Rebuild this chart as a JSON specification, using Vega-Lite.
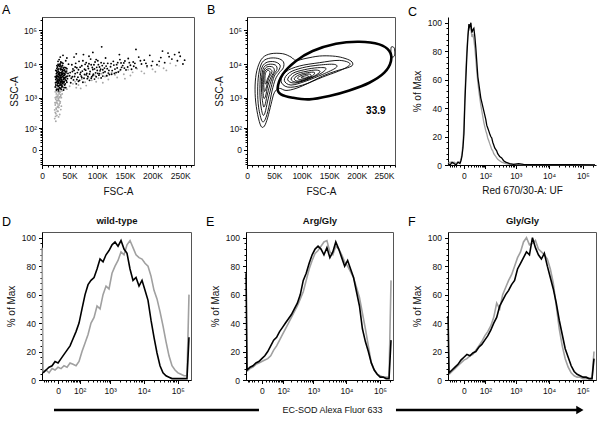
{
"$schema":"https://vega.github.io/schema/vega-lite/v6.json",
"background":"white",
"padding":{"left":1,"top":3,"right":2,"bottom":2},
"config":{
 "font":"Liberation Sans",
 "view":{"stroke":"#555","strokeWidth":1},
 "axis":{"labelFont":"Liberation Sans","titleFont":"Liberation Sans","labelFontSize":8.5,"titleFontSize":10,"titleFontWeight":"normal","labelColor":"#111","titleColor":"#111","domainColor":"#000","tickColor":"#000","grid":false,"labelFlush":false,"labelOverlap":false,"labelBound":false},
 "title":{"font":"Liberation Sans","fontSize":12.5,"fontWeight":"normal","anchor":"start","frame":"group","dx":-40,"offset":0,"color":"#000"}
},
"datasets":{
 "scatK":[{"x":24000,"y":2100},{"x":25000,"y":3500},{"x":26000,"y":5200},{"x":27000,"y":1800},{"x":27000,"y":7400},{"x":28000,"y":2600},{"x":28000,"y":4300},{"x":29000,"y":9800},{"x":29000,"y":3100},{"x":30000,"y":1600},{"x":30000,"y":6100},{"x":31000,"y":2300},{"x":31000,"y":4800},{"x":32000,"y":8600},{"x":32000,"y":3600},{"x":33000,"y":1900},{"x":33000,"y":5600},{"x":34000,"y":2800},{"x":34000,"y":11500},{"x":35000,"y":4100},{"x":35000,"y":7000},{"x":36000,"y":2100},{"x":36000,"y":3300},{"x":37000,"y":5100},{"x":37000,"y":9100},{"x":38000,"y":2600},{"x":38000,"y":6400},{"x":39000,"y":3900},{"x":39000,"y":1700},{"x":40000,"y":4600},{"x":40000,"y":8000},{"x":41000,"y":2400},{"x":42000,"y":5900},{"x":42000,"y":3400},{"x":43000,"y":12500},{"x":43000,"y":2000},{"x":44000,"y":4300},{"x":45000,"y":7300},{"x":45000,"y":2900},{"x":46000,"y":3700},{"x":47000,"y":5300},{"x":48000,"y":9900},{"x":26000,"y":2900},{"x":29000,"y":6800},{"x":31000,"y":13500},{"x":33000,"y":3900},{"x":35000,"y":2400},{"x":37000,"y":3000},{"x":30000,"y":4200},{"x":28000,"y":8200},{"x":32000,"y":2000},{"x":34000,"y":6800},{"x":36000,"y":4900},{"x":38000,"y":10500},{"x":40000,"y":3000},{"x":27000,"y":4600},{"x":41000,"y":6700},{"x":44000,"y":3200},{"x":25000,"y":2400},{"x":39000,"y":5400},{"x":26500,"y":3800},{"x":28500,"y":5600},{"x":30500,"y":2800},{"x":33500,"y":7600},{"x":35500,"y":5400},{"x":37500,"y":4200},{"x":29500,"y":2200},{"x":31500,"y":3200},{"x":34500,"y":3500},{"x":36500,"y":6100},{"x":27500,"y":3200},{"x":32500,"y":4500},{"x":38500,"y":3500},{"x":40500,"y":5200},{"x":42500,"y":4000},{"x":30000,"y":9000},{"x":33000,"y":10000},{"x":36000,"y":8200},{"x":24500,"y":2800},{"x":26000,"y":1700},{"x":33000,"y":16000},{"x":38000,"y":18000},{"x":45000,"y":15000},
 {"x":25500,"y":4300},{"x":26500,"y":6300},{"x":27500,"y":2300},{"x":28500,"y":3600},{"x":29500,"y":4900},{"x":30500,"y":7200},{"x":31500,"y":5600},{"x":32500,"y":2600},{"x":33500,"y":3100},{"x":34500,"y":4700},{"x":35500,"y":3000},{"x":36500,"y":2700},{"x":37500,"y":6800},{"x":38500,"y":4600},{"x":39500,"y":2900},{"x":40500,"y":3700},{"x":41500,"y":4900},{"x":43500,"y":5500},{"x":44500,"y":6200},{"x":46500,"y":4400},{"x":27000,"y":5800},{"x":29000,"y":2700},{"x":31000,"y":3900},{"x":33000,"y":4500},{"x":35000,"y":3600},{"x":37000,"y":2200},{"x":39000,"y":7600},{"x":41000,"y":3900},{"x":28000,"y":3000},{"x":30000,"y":3400},{"x":32000,"y":5100},{"x":34000,"y":4000},{"x":36000,"y":5600},{"x":38000,"y":3000},{"x":40000,"y":6400},{"x":42000,"y":2600},{"x":26000,"y":4000},{"x":30000,"y":5200},{"x":34000,"y":8800},{"x":29000,"y":12000},{"x":36000,"y":11000},{"x":31000,"y":9800},{"x":27000,"y":9000},{"x":25000,"y":6500},{"x":24000,"y":4200},{"x":33000,"y":2400},{"x":35000,"y":1800},{"x":29500,"y":1800},{"x":40000,"y":2000},{"x":43000,"y":7800},
 {"x":50000,"y":4500},{"x":52000,"y":2800},{"x":54000,"y":9500},{"x":55000,"y":6000},{"x":57000,"y":3400},{"x":58000,"y":16000},{"x":60000,"y":5200},{"x":62000,"y":2600},{"x":63000,"y":7800},{"x":65000,"y":4100},{"x":67000,"y":12000},{"x":68000,"y":3300},{"x":70000,"y":5700},{"x":72000,"y":8900},{"x":74000,"y":2900},{"x":75000,"y":19000},{"x":77000,"y":4900},{"x":79000,"y":6600},{"x":80000,"y":11000},{"x":82000,"y":3700},{"x":84000,"y":7400},{"x":86000,"y":5100},{"x":88000,"y":14000},{"x":90000,"y":4200},{"x":92000,"y":6900},{"x":94000,"y":9500},{"x":95000,"y":3600},{"x":97000,"y":5500},{"x":99000,"y":8000},{"x":101000,"y":12500},{"x":103000,"y":4700},{"x":105000,"y":6300},{"x":107000,"y":3900},{"x":109000,"y":9000},{"x":111000,"y":5600},{"x":113000,"y":7600},{"x":115000,"y":15000},{"x":117000,"y":4500},{"x":119000,"y":10500},{"x":121000,"y":6500},{"x":124000,"y":8300},{"x":126000,"y":5000},{"x":129000,"y":12000},{"x":132000,"y":7100},{"x":135000,"y":9600},{"x":138000,"y":5800},{"x":141000,"y":13500},{"x":144000,"y":8000},{"x":148000,"y":10800},{"x":152000,"y":6700},{"x":156000,"y":14500},{"x":160000,"y":9200},{"x":165000,"y":11500},{"x":170000,"y":7800},{"x":175000,"y":16000},{"x":180000,"y":10000},{"x":185000,"y":13000},{"x":190000,"y":8800},{"x":195000,"y":18000},{"x":200000,"y":12000},{"x":208000,"y":9500},{"x":215000,"y":15500},{"x":222000,"y":11000},{"x":228000,"y":21000},{"x":235000,"y":14000},{"x":240000,"y":19000},{"x":245000,"y":12500},{"x":250000,"y":17000},{"x":258000,"y":13000},{"x":108000,"y":32000},{"x":170000,"y":27000},{"x":62000,"y":20000},{"x":92000,"y":22000},
 {"x":53000,"y":3800},{"x":56000,"y":7200},{"x":59000,"y":4300},{"x":61000,"y":10500},{"x":64000,"y":5600},{"x":66000,"y":3100},{"x":69000,"y":8100},{"x":71000,"y":4400},{"x":73000,"y":6200},{"x":76000,"y":3800},{"x":78000,"y":9800},{"x":81000,"y":5300},{"x":83000,"y":4300},{"x":85000,"y":10200},{"x":87000,"y":6000},{"x":89000,"y":3800},{"x":91000,"y":7900},{"x":93000,"y":5000},{"x":96000,"y":11500},{"x":98000,"y":4200},{"x":100000,"y":6500},{"x":102000,"y":9600},{"x":104000,"y":5200},{"x":106000,"y":7000},{"x":110000,"y":4400},{"x":112000,"y":10500},{"x":114000,"y":5900},{"x":118000,"y":7300},{"x":122000,"y":4900},{"x":127000,"y":6400},{"x":130000,"y":9300},{"x":134000,"y":5600},{"x":137000,"y":11000},{"x":142000,"y":6800},{"x":146000,"y":9000},{"x":150000,"y":12300},{"x":155000,"y":8200},{"x":162000,"y":7000},{"x":168000,"y":10500},
 {"x":51000,"y":5600},{"x":55000,"y":4200},{"x":58000,"y":6500},{"x":60000,"y":8200},{"x":63000,"y":3500},{"x":66000,"y":6800},{"x":69000,"y":5000},{"x":72000,"y":4000},{"x":74000,"y":12500},{"x":77000,"y":7000},{"x":80000,"y":4800},{"x":83000,"y":8600},{"x":86000,"y":3300},{"x":89000,"y":9500},{"x":92000,"y":4600},{"x":95000,"y":7200},{"x":98000,"y":13500},{"x":101000,"y":5300},{"x":104000,"y":8200},{"x":107000,"y":11000},{"x":110000,"y":6800},{"x":116000,"y":8700},{"x":120000,"y":5400},{"x":125000,"y":10300},{"x":131000,"y":5300},{"x":136000,"y":7700},{"x":143000,"y":10800},{"x":149000,"y":7600},{"x":158000,"y":11000},{"x":166000,"y":8600},{"x":178000,"y":12500},{"x":188000,"y":10500},{"x":198000,"y":9000},{"x":212000,"y":12000},{"x":230000,"y":16500},{"x":248000,"y":22000},{"x":255000,"y":10000},{"x":218000,"y":24000},{"x":140000,"y":19000},{"x":85000,"y":17000}],
 "scatG":[{"x":23000,"y":220},{"x":24000,"y":350},{"x":24000,"y":600},{"x":25000,"y":180},{"x":25000,"y":900},{"x":26000,"y":450},{"x":26000,"y":1300},{"x":27000,"y":280},{"x":27000,"y":700},{"x":28000,"y":1100},{"x":28000,"y":520},{"x":29000,"y":1700},{"x":29000,"y":380},{"x":30000,"y":850},{"x":30000,"y":1400},{"x":31000,"y":600},{"x":31000,"y":1950},{"x":32000,"y":1000},{"x":32000,"y":300},{"x":33000,"y":1500},{"x":33000,"y":750},{"x":34000,"y":1200},{"x":35000,"y":2100},{"x":35000,"y":550},{"x":36000,"y":1600},{"x":24000,"y":1500},{"x":23000,"y":420},{"x":26000,"y":2000},{"x":28000,"y":2400},{"x":30000,"y":250},{"x":27000,"y":1000},{"x":25000,"y":700},{"x":29000,"y":1200},{"x":31000,"y":800},{"x":33000,"y":2600},{"x":34000,"y":430},{"x":36000,"y":2300},{"x":32000,"y":1800},
 {"x":24500,"y":260},{"x":25500,"y":480},{"x":26500,"y":800},{"x":27500,"y":380},{"x":28500,"y":650},{"x":29500,"y":950},{"x":30500,"y":500},{"x":31500,"y":1300},{"x":32500,"y":680},{"x":33500,"y":1100},{"x":34500,"y":1700},{"x":26000,"y":1100},{"x":27000,"y":1500},{"x":28000,"y":820},{"x":29000,"y":550},{"x":30000,"y":1900},{"x":31000,"y":1050},{"x":32000,"y":1450},{"x":25000,"y":320},{"x":24000,"y":1000},{"x":23500,"y":700},{"x":27000,"y":2000},{"x":35000,"y":1000},{"x":36500,"y":1300},
 {"x":45000,"y":1800},{"x":50000,"y":2200},{"x":56000,"y":2600},{"x":60000,"y":3000},{"x":66000,"y":2400},{"x":72000,"y":3600},{"x":78000,"y":2900},{"x":84000,"y":4000},{"x":90000,"y":3300},{"x":96000,"y":4600},{"x":102000,"y":3800},{"x":108000,"y":5200},{"x":114000,"y":4300},{"x":120000,"y":3500},{"x":126000,"y":5600},{"x":132000,"y":4800},{"x":140000,"y":6200},{"x":148000,"y":5000},{"x":156000,"y":6800},{"x":164000,"y":5700},{"x":172000,"y":7300},{"x":180000,"y":6100},{"x":190000,"y":8000},{"x":200000,"y":7000},{"x":212000,"y":8800},{"x":220000,"y":7500},{"x":232000,"y":10500},{"x":242000,"y":9000},{"x":70000,"y":1900},{"x":110000,"y":2800},{"x":150000,"y":3700},{"x":205000,"y":5900},{"x":62000,"y":2000},{"x":80000,"y":2300},{"x":98000,"y":3000},{"x":118000,"y":4500},{"x":136000,"y":4000},{"x":160000,"y":4600},{"x":185000,"y":5300},{"x":225000,"y":6500}],
 "cont":[
 {"id":"L0","o":1,"x":25500,"y":120},{"id":"L0","o":2,"x":19400,"y":301},{"id":"L0","o":3,"x":15200,"y":997},{"id":"L0","o":4,"x":15200,"y":3140},{"id":"L0","o":5,"x":19400,"y":7790},{"id":"L0","o":6,"x":28600,"y":15360},{"id":"L0","o":7,"x":43800,"y":20140},{"id":"L0","o":8,"x":65100,"y":20140},{"id":"L0","o":9,"x":80300,"y":16070},{"id":"L0","o":10,"x":89400,"y":12810},{"id":"L0","o":11,"x":107600,"y":14690},{"id":"L0","o":12,"x":131900,"y":17180},{"id":"L0","o":13,"x":156200,"y":17180},{"id":"L0","o":14,"x":174500,"y":15360},{"id":"L0","o":15,"x":189700,"y":12250},{"id":"L0","o":16,"x":192700,"y":9340},{"id":"L0","o":17,"x":183600,"y":7790},{"id":"L0","o":18,"x":162300,"y":6210},{"id":"L0","o":19,"x":138000,"y":4430},{"id":"L0","o":20,"x":113700,"y":2800},{"id":"L0","o":21,"x":89400,"y":1900},{"id":"L0","o":22,"x":71100,"y":1650},{"id":"L0","o":23,"x":59000,"y":1900},{"id":"L0","o":24,"x":49800,"y":1410},{"id":"L0","o":25,"x":43800,"y":622},{"id":"L0","o":26,"x":37700,"y":235},{"id":"L0","o":27,"x":31600,"y":120},
 {"id":"L1","o":1,"x":27400,"y":181},{"id":"L1","o":2,"x":21300,"y":490},{"id":"L1","o":3,"x":19450,"y":1580},{"id":"L1","o":4,"x":21300,"y":4950},{"id":"L1","o":5,"x":27400,"y":10950},{"id":"L1","o":6,"x":39500,"y":14680},{"id":"L1","o":7,"x":56000,"y":14680},{"id":"L1","o":8,"x":66300,"y":11710},{"id":"L1","o":9,"x":66300,"y":7790},{"id":"L1","o":10,"x":59000,"y":5550},{"id":"L1","o":11,"x":51700,"y":3520},{"id":"L1","o":12,"x":45600,"y":1580},{"id":"L1","o":13,"x":39500,"y":490},{"id":"L1","o":14,"x":33400,"y":210},
 {"id":"L2","o":1,"x":28600,"y":301},{"id":"L2","o":2,"x":24300,"y":789},{"id":"L2","o":3,"x":23700,"y":2500},{"id":"L2","o":4,"x":26100,"y":6960},{"id":"L2","o":5,"x":34700,"y":10950},{"id":"L2","o":6,"x":49800,"y":11710},{"id":"L2","o":7,"x":60200,"y":9340},{"id":"L2","o":8,"x":57800,"y":6500},{"id":"L2","o":9,"x":49800,"y":4430},{"id":"L2","o":10,"x":43800,"y":1990},{"id":"L2","o":11,"x":37700,"y":789},{"id":"L2","o":12,"x":32800,"y":340},
 {"id":"L3","o":1,"x":29800,"y":556},{"id":"L3","o":2,"x":26700,"y":1410},{"id":"L3","o":3,"x":26700,"y":3940},{"id":"L3","o":4,"x":30400,"y":7790},{"id":"L3","o":5,"x":39500,"y":9770},{"id":"L3","o":6,"x":51700,"y":9340},{"id":"L3","o":7,"x":54700,"y":6960},{"id":"L3","o":8,"x":48000,"y":4730},{"id":"L3","o":9,"x":42000,"y":2500},{"id":"L3","o":10,"x":36500,"y":1126},{"id":"L3","o":11,"x":32800,"y":595},
 {"id":"L4","o":1,"x":30400,"y":997},{"id":"L4","o":2,"x":28600,"y":2500},{"id":"L4","o":3,"x":29800,"y":5550},{"id":"L4","o":4,"x":35900,"y":8150},{"id":"L4","o":5,"x":46800,"y":8150},{"id":"L4","o":6,"x":49800,"y":6210},{"id":"L4","o":7,"x":43800,"y":4120},{"id":"L4","o":8,"x":37700,"y":2240},{"id":"L4","o":9,"x":34000,"y":1126},
 {"id":"L5","o":1,"x":31600,"y":1580},{"id":"L5","o":2,"x":30400,"y":3520},{"id":"L5","o":3,"x":32800,"y":6210},{"id":"L5","o":4,"x":40700,"y":7280},{"id":"L5","o":5,"x":45600,"y":5940},{"id":"L5","o":6,"x":39500,"y":3770},{"id":"L5","o":7,"x":34700,"y":1900},
 {"id":"L6","o":1,"x":32800,"y":2800},{"id":"L6","o":2,"x":33400,"y":5180},{"id":"L6","o":3,"x":38300,"y":6500},{"id":"L6","o":4,"x":42000,"y":5550},{"id":"L6","o":5,"x":37100,"y":3520},{"id":"L6","o":6,"x":34700,"y":2615},
 {"id":"R1","o":1,"x":62000,"y":3140},{"id":"R1","o":2,"x":71100,"y":5940},{"id":"R1","o":3,"x":95500,"y":8730},{"id":"R1","o":4,"x":131900,"y":10950},{"id":"R1","o":5,"x":168400,"y":12810},{"id":"R1","o":6,"x":187900,"y":10210},{"id":"R1","o":7,"x":174500,"y":6960},{"id":"R1","o":8,"x":138000,"y":4120},{"id":"R1","o":9,"x":101500,"y":2390},{"id":"R1","o":10,"x":74200,"y":2080},
 {"id":"R2","o":1,"x":68100,"y":3290},{"id":"R2","o":2,"x":77200,"y":5550},{"id":"R2","o":3,"x":101500,"y":7790},{"id":"R2","o":4,"x":131900,"y":9340},{"id":"R2","o":5,"x":159300,"y":9770},{"id":"R2","o":6,"x":162300,"y":7790},{"id":"R2","o":7,"x":138000,"y":4950},{"id":"R2","o":8,"x":107600,"y":3140},{"id":"R2","o":9,"x":80300,"y":2390},
 {"id":"R3","o":1,"x":74200,"y":3440},{"id":"R3","o":2,"x":83300,"y":5300},{"id":"R3","o":3,"x":104600,"y":6800},{"id":"R3","o":4,"x":128900,"y":7790},{"id":"R3","o":5,"x":144100,"y":7450},{"id":"R3","o":6,"x":135000,"y":5300},{"id":"R3","o":7,"x":110700,"y":3520},{"id":"R3","o":8,"x":86300,"y":2740},
 {"id":"R4","o":1,"x":80300,"y":3600},{"id":"R4","o":2,"x":89400,"y":5060},{"id":"R4","o":3,"x":107600,"y":6070},{"id":"R4","o":4,"x":125800,"y":6645},{"id":"R4","o":5,"x":133200,"y":5940},{"id":"R4","o":6,"x":122800,"y":4430},{"id":"R4","o":7,"x":104600,"y":3290},{"id":"R4","o":8,"x":88200,"y":2940},
 {"id":"R5","o":1,"x":86300,"y":3770},{"id":"R5","o":2,"x":95500,"y":4840},{"id":"R5","o":3,"x":110700,"y":5550},{"id":"R5","o":4,"x":122800,"y":5680},{"id":"R5","o":5,"x":119800,"y":4520},{"id":"R5","o":6,"x":104600,"y":3440},{"id":"R5","o":7,"x":91200,"y":3140},
 {"id":"R6","o":1,"x":92400,"y":3940},{"id":"R6","o":2,"x":101500,"y":4730},{"id":"R6","o":3,"x":113700,"y":5060},{"id":"R6","o":4,"x":116700,"y":4430},{"id":"R6","o":5,"x":104600,"y":3680},{"id":"R6","o":6,"x":95500,"y":3520},
 {"id":"R7","o":1,"x":98500,"y":4030},{"id":"R7","o":2,"x":107600,"y":4520},{"id":"R7","o":3,"x":112500,"y":4330},{"id":"R7","o":4,"x":106400,"y":3850},
 {"id":"g2","o":1,"x":263500,"y":32000},{"id":"g2","o":2,"x":268500,"y":30000},{"id":"g2","o":3,"x":269500,"y":22000},{"id":"g2","o":4,"x":268500,"y":17000},{"id":"g2","o":5,"x":264000,"y":16500},{"id":"g2","o":6,"x":262500,"y":24000},
 {"id":"G","o":1,"x":55900,"y":1900},{"id":"G","o":2,"x":65100,"y":4950},{"id":"G","o":3,"x":89400,"y":12250},{"id":"G","o":4,"x":119800,"y":24130},{"id":"G","o":5,"x":162300,"y":39650},{"id":"G","o":6,"x":204900,"y":45420},{"id":"G","o":7,"x":241400,"y":37910},{"id":"G","o":8,"x":259600,"y":24130},{"id":"G","o":9,"x":262700,"y":12250},{"id":"G","o":10,"x":250500,"y":5550},{"id":"G","o":11,"x":223100,"y":2800},{"id":"G","o":12,"x":186600,"y":1653},{"id":"G","o":13,"x":150200,"y":1126},{"id":"G","o":14,"x":113700,"y":891},{"id":"G","o":15,"x":83300,"y":997},{"id":"G","o":16,"x":62000,"y":1260}],
 "Ck":[{"x":-58.6,"y":1},{"x":-47.4,"y":0},{"x":-37.6,"y":2},{"x":-29,"y":1},{"x":-21.6,"y":0},{"x":-15,"y":2},{"x":-9.3,"y":1},{"x":-6.8,"y":3},{"x":-4.4,"y":6},{"x":-2.1,"y":12},{"x":0,"y":22},{"x":2.1,"y":45},{"x":4.4,"y":62},{"x":6.8,"y":78},{"x":9.3,"y":90},{"x":12.1,"y":99},{"x":15,"y":97},{"x":18.2,"y":100},{"x":21.6,"y":93},{"x":25.2,"y":95},{"x":29,"y":96},{"x":33.2,"y":90},{"x":37.6,"y":82},{"x":42.3,"y":72},{"x":47.4,"y":62},{"x":52.8,"y":57},{"x":58.6,"y":52},{"x":64.8,"y":47},{"x":71.5,"y":44},{"x":78.6,"y":41},{"x":86.2,"y":38},{"x":94.3,"y":35},{"x":103,"y":32},{"x":112,"y":28},{"x":122,"y":26},{"x":133,"y":24},{"x":144,"y":22},{"x":157,"y":20},{"x":170,"y":19},{"x":184,"y":16},{"x":199,"y":14},{"x":215,"y":12},{"x":232,"y":11},{"x":250,"y":10},{"x":270,"y":8},{"x":291,"y":7},{"x":314,"y":6},{"x":363,"y":5},{"x":420,"y":3},{"x":486,"y":2},{"x":561,"y":1.5},{"x":646,"y":1},{"x":856,"y":0.5},{"x":1214,"y":1},{"x":1715,"y":0.5},{"x":3405,"y":0.3},{"x":13284,"y":0.2},{"x":51560,"y":0.3},{"x":228820,"y":0}],
 "Cg":[{"x":-58.6,"y":1},{"x":-47.4,"y":2},{"x":-37.6,"y":1},{"x":-29,"y":2},{"x":-21.6,"y":1},{"x":-15,"y":2},{"x":-9.3,"y":2},{"x":-6.8,"y":4},{"x":-4.4,"y":8},{"x":-2.1,"y":15},{"x":0,"y":28},{"x":2.1,"y":50},{"x":4.4,"y":68},{"x":6.8,"y":82},{"x":9.3,"y":92},{"x":12.1,"y":98},{"x":15,"y":95},{"x":18.2,"y":96},{"x":21.6,"y":90},{"x":25.2,"y":92},{"x":29,"y":88},{"x":33.2,"y":82},{"x":37.6,"y":74},{"x":42.3,"y":65},{"x":47.4,"y":58},{"x":52.8,"y":52},{"x":58.6,"y":47},{"x":64.8,"y":42},{"x":71.5,"y":38},{"x":78.6,"y":34},{"x":86.2,"y":30},{"x":94.3,"y":27},{"x":103,"y":24},{"x":112,"y":22},{"x":122,"y":19},{"x":133,"y":17},{"x":144,"y":15},{"x":157,"y":13},{"x":170,"y":11},{"x":184,"y":10},{"x":199,"y":8},{"x":215,"y":7},{"x":232,"y":6},{"x":250,"y":5},{"x":270,"y":4},{"x":314,"y":3},{"x":363,"y":2},{"x":420,"y":1.5},{"x":486,"y":1},{"x":646,"y":0.5},{"x":856,"y":0.5},{"x":1715,"y":0.3},{"x":6733,"y":0.2},{"x":51560,"y":0.2},{"x":228820,"y":0}],
 "Dk":[{"x":-52.8,"y":5},{"x":-37.6,"y":7},{"x":-25.2,"y":9},{"x":-15,"y":10},{"x":-6.8,"y":13},{"x":0,"y":12},{"x":6.8,"y":15},{"x":15,"y":18},{"x":25.2,"y":21},{"x":37.6,"y":24},{"x":52.8,"y":29},{"x":71.5,"y":34},{"x":94.3,"y":40},{"x":122,"y":50},{"x":157,"y":60},{"x":199,"y":67},{"x":250,"y":70},{"x":314,"y":72},{"x":391,"y":78},{"x":486,"y":85},{"x":602,"y":83},{"x":744,"y":88},{"x":919,"y":91},{"x":1132,"y":95},{"x":1394,"y":97},{"x":1715,"y":94},{"x":2108,"y":98},{"x":2590,"y":92},{"x":3181,"y":89},{"x":3903,"y":78},{"x":4790,"y":70},{"x":5877,"y":72},{"x":7209,"y":66},{"x":8839,"y":70},{"x":10837,"y":63},{"x":13284,"y":56},{"x":16282,"y":42},{"x":19957,"y":30},{"x":24460,"y":19},{"x":29970,"y":10},{"x":36730,"y":5},{"x":45018,"y":3},{"x":55170,"y":2},{"x":67610,"y":1},{"x":82850,"y":1},{"x":101510,"y":1},{"x":124350,"y":1},{"x":152380,"y":1},{"x":186750,"y":1},{"x":213800,"y":30}],
 "Dg":[{"x":-58.6,"y":93},{"x":-52.8,"y":6},{"x":-37.6,"y":7},{"x":-25.2,"y":5},{"x":-15,"y":8},{"x":-6.8,"y":7},{"x":0,"y":9},{"x":6.8,"y":8},{"x":15,"y":10},{"x":25.2,"y":9},{"x":37.6,"y":12},{"x":52.8,"y":11},{"x":71.5,"y":10},{"x":94.3,"y":13},{"x":122,"y":20},{"x":157,"y":26},{"x":199,"y":32},{"x":250,"y":40},{"x":314,"y":44},{"x":391,"y":52},{"x":486,"y":50},{"x":602,"y":60},{"x":744,"y":66},{"x":919,"y":64},{"x":1132,"y":75},{"x":1394,"y":80},{"x":1715,"y":84},{"x":2108,"y":90},{"x":2590,"y":88},{"x":3181,"y":95},{"x":3903,"y":98},{"x":4790,"y":93},{"x":5877,"y":88},{"x":7209,"y":86},{"x":8839,"y":85},{"x":10837,"y":82},{"x":13284,"y":80},{"x":16282,"y":73},{"x":19957,"y":63},{"x":24460,"y":57},{"x":29970,"y":48},{"x":36730,"y":38},{"x":45018,"y":27},{"x":55170,"y":17},{"x":67610,"y":10},{"x":82850,"y":7},{"x":101510,"y":5},{"x":124350,"y":4},{"x":152380,"y":3},{"x":186750,"y":3},{"x":213800,"y":60}],
 "Ek":[{"x":-58.6,"y":75},{"x":-52.8,"y":7},{"x":-37.6,"y":9},{"x":-25.2,"y":10},{"x":-15,"y":12},{"x":-6.8,"y":13},{"x":0,"y":15},{"x":6.8,"y":17},{"x":15,"y":20},{"x":25.2,"y":24},{"x":37.6,"y":28},{"x":52.8,"y":30},{"x":71.5,"y":34},{"x":94.3,"y":37},{"x":122,"y":40},{"x":157,"y":43},{"x":199,"y":46},{"x":250,"y":50},{"x":314,"y":54},{"x":391,"y":60},{"x":486,"y":70},{"x":602,"y":75},{"x":744,"y":82},{"x":919,"y":88},{"x":1132,"y":92},{"x":1394,"y":94},{"x":1715,"y":92},{"x":2108,"y":88},{"x":2590,"y":93},{"x":3181,"y":86},{"x":3903,"y":90},{"x":4790,"y":97},{"x":5877,"y":92},{"x":7209,"y":86},{"x":8839,"y":80},{"x":10837,"y":84},{"x":13284,"y":78},{"x":16282,"y":72},{"x":19957,"y":62},{"x":24460,"y":52},{"x":29970,"y":36},{"x":36730,"y":27},{"x":45018,"y":20},{"x":55170,"y":12},{"x":67610,"y":7},{"x":82850,"y":4},{"x":101510,"y":2},{"x":124350,"y":2},{"x":152380,"y":1},{"x":186750,"y":1},{"x":213800,"y":28}],
 "Eg":[{"x":-52.8,"y":6},{"x":-37.6,"y":8},{"x":-25.2,"y":9},{"x":-15,"y":11},{"x":-6.8,"y":12},{"x":0,"y":13},{"x":6.8,"y":14},{"x":15,"y":15},{"x":25.2,"y":17},{"x":37.6,"y":21},{"x":52.8,"y":24},{"x":71.5,"y":28},{"x":94.3,"y":32},{"x":122,"y":36},{"x":157,"y":40},{"x":199,"y":44},{"x":250,"y":48},{"x":314,"y":52},{"x":391,"y":57},{"x":486,"y":62},{"x":602,"y":70},{"x":744,"y":78},{"x":919,"y":84},{"x":1132,"y":89},{"x":1394,"y":91},{"x":1715,"y":94},{"x":2108,"y":97},{"x":2590,"y":98},{"x":3181,"y":90},{"x":3903,"y":88},{"x":4790,"y":94},{"x":5877,"y":92},{"x":7209,"y":88},{"x":8839,"y":83},{"x":10837,"y":80},{"x":13284,"y":76},{"x":16282,"y":72},{"x":19957,"y":65},{"x":24460,"y":58},{"x":29970,"y":47},{"x":36730,"y":36},{"x":45018,"y":24},{"x":55170,"y":12},{"x":67610,"y":7},{"x":82850,"y":4},{"x":101510,"y":3},{"x":124350,"y":2},{"x":152380,"y":2},{"x":186750,"y":2},{"x":213800,"y":70}],
 "Fk":[{"x":-58.6,"y":45},{"x":-52.8,"y":5},{"x":-37.6,"y":7},{"x":-25.2,"y":9},{"x":-15,"y":11},{"x":-6.8,"y":14},{"x":0,"y":16},{"x":6.8,"y":18},{"x":15,"y":17},{"x":25.2,"y":19},{"x":37.6,"y":20},{"x":52.8,"y":23},{"x":71.5,"y":25},{"x":94.3,"y":28},{"x":122,"y":31},{"x":157,"y":35},{"x":199,"y":40},{"x":250,"y":44},{"x":314,"y":52},{"x":391,"y":56},{"x":486,"y":60},{"x":602,"y":63},{"x":744,"y":67},{"x":919,"y":70},{"x":1132,"y":78},{"x":1394,"y":82},{"x":1715,"y":86},{"x":2108,"y":90},{"x":2590,"y":88},{"x":3181,"y":100},{"x":3903,"y":93},{"x":4790,"y":88},{"x":5877,"y":85},{"x":7209,"y":89},{"x":8839,"y":80},{"x":10837,"y":72},{"x":13284,"y":64},{"x":16282,"y":54},{"x":19957,"y":42},{"x":24460,"y":32},{"x":29970,"y":22},{"x":36730,"y":16},{"x":45018,"y":10},{"x":55170,"y":6},{"x":67610,"y":4},{"x":82850,"y":3},{"x":101510,"y":2},{"x":124350,"y":2},{"x":152380,"y":1},{"x":186750,"y":1},{"x":213800,"y":15}],
 "Fg":[{"x":-52.8,"y":4},{"x":-37.6,"y":6},{"x":-25.2,"y":8},{"x":-15,"y":10},{"x":-6.8,"y":12},{"x":0,"y":14},{"x":6.8,"y":15},{"x":15,"y":17},{"x":25.2,"y":18},{"x":37.6,"y":21},{"x":52.8,"y":24},{"x":71.5,"y":27},{"x":94.3,"y":31},{"x":122,"y":34},{"x":157,"y":38},{"x":199,"y":44},{"x":250,"y":54},{"x":314,"y":50},{"x":391,"y":60},{"x":486,"y":65},{"x":602,"y":70},{"x":744,"y":74},{"x":919,"y":80},{"x":1132,"y":86},{"x":1394,"y":90},{"x":1715,"y":97},{"x":2108,"y":100},{"x":2590,"y":95},{"x":3181,"y":96},{"x":3903,"y":98},{"x":4790,"y":92},{"x":5877,"y":90},{"x":7209,"y":88},{"x":8839,"y":85},{"x":10837,"y":78},{"x":13284,"y":68},{"x":16282,"y":52},{"x":19957,"y":36},{"x":24460,"y":24},{"x":29970,"y":15},{"x":36730,"y":9},{"x":45018,"y":5},{"x":55170,"y":3},{"x":67610,"y":2},{"x":82850,"y":2},{"x":101510,"y":1},{"x":124350,"y":1},{"x":152380,"y":1},{"x":186750,"y":1},{"x":213800,"y":20}]
},
"spacing":17,
"vconcat":[
 {"hconcat":[
  {"width":152,"height":148,"title":{"text":"A","dy":5},
   "encoding":{
    "x":{"field":"x","type":"quantitative","scale":{"domain":[0,275000],"nice":false,"zero":false},"axis":{"title":"FSC-A","values":[0,10000,20000,30000,40000,50000,60000,70000,80000,90000,100000,110000,120000,130000,140000,150000,160000,170000,180000,190000,200000,210000,220000,230000,240000,250000,260000,270000],"labelExpr":"datum.value==0?'0':datum.value%50000==0?(datum.value/1000)+'K':''","tickSize":{"condition":{"test":"datum.value%50000==0","value":3.5},"value":2},"labelPadding":3,"titlePadding":6}},
    "y":{"field":"y","type":"quantitative","scale":{"type":"symlog","constant":30,"domain":[-53,241600],"nice":false,"zero":false},"axis":{"title":"SSC-A","values":[-50,-40,-30,-20,-10,0,10,20,30,40,50,60,70,80,90,100,200,300,400,500,600,700,800,900,1000,2000,3000,4000,5000,6000,7000,8000,9000,10000,20000,30000,40000,50000,60000,70000,80000,90000,100000,200000],"labelExpr":"datum.value==0?'0':datum.value==100?'10²':datum.value==1000?'10³':datum.value==10000?'10⁴':datum.value==100000?'10⁵':''","tickSize":{"condition":{"test":"datum.value==0||datum.value==100||datum.value==1000||datum.value==10000||datum.value==100000","value":3.5},"value":2},"labelPadding":2,"titlePadding":4}}},
   "layer":[
    {"data":{"name":"scatG"},"mark":{"type":"circle","size":3.5,"color":"#a8a8a8","opacity":1}},
    {"data":{"name":"scatK"},"mark":{"type":"circle","size":3.5,"color":"#000","opacity":1}}
   ]},
  {"width":148,"height":148,"title":{"text":"B","dy":5},
   "encoding":{
    "x":{"field":"x","type":"quantitative","scale":{"domain":[0,270000],"nice":false,"zero":false},"axis":{"title":"FSC-A","values":[0,10000,20000,30000,40000,50000,60000,70000,80000,90000,100000,110000,120000,130000,140000,150000,160000,170000,180000,190000,200000,210000,220000,230000,240000,250000,260000,270000],"labelExpr":"datum.value==0?'0':datum.value%50000==0?(datum.value/1000)+'K':''","tickSize":{"condition":{"test":"datum.value%50000==0","value":3.5},"value":2},"labelPadding":3,"titlePadding":6}},
    "y":{"field":"y","type":"quantitative","scale":{"type":"symlog","constant":30,"domain":[-53,241600],"nice":false,"zero":false},"axis":{"title":"SSC-A","values":[-50,-40,-30,-20,-10,0,10,20,30,40,50,60,70,80,90,100,200,300,400,500,600,700,800,900,1000,2000,3000,4000,5000,6000,7000,8000,9000,10000,20000,30000,40000,50000,60000,70000,80000,90000,100000,200000],"labelExpr":"datum.value==0?'0':datum.value==100?'10²':datum.value==1000?'10³':datum.value==10000?'10⁴':datum.value==100000?'10⁵':''","tickSize":{"condition":{"test":"datum.value==0||datum.value==100||datum.value==1000||datum.value==10000||datum.value==100000","value":3.5},"value":2},"labelPadding":2,"titlePadding":4}}},
   "layer":[
    {"data":{"name":"cont"},"transform":[{"filter":"datum.id!='G'"}],"mark":{"type":"line","interpolate":"cardinal-closed","strokeWidth":0.9,"color":"#000"},"encoding":{"detail":{"field":"id","type":"nominal"},"order":{"field":"o","type":"quantitative"}}},
    {"data":{"name":"cont"},"transform":[{"filter":"datum.id=='G'"}],"mark":{"type":"line","interpolate":"cardinal-closed","strokeWidth":2.6,"color":"#000"},"encoding":{"order":{"field":"o","type":"quantitative"}}},
    {"data":{"values":[{"x":235000,"y":385,"t":"33.9"}]},"mark":{"type":"text","fontWeight":"bold","fontSize":10,"font":"Liberation Sans","color":"#000"},"encoding":{"text":{"field":"t"}}}
   ]},
  {"width":148,"height":148,"title":{"text":"C","dy":5},"view":{"stroke":null},
   "encoding":{
    "x":{"field":"x","type":"quantitative","scale":{"type":"symlog","constant":30,"domain":[-59,245000],"nice":false,"zero":false},"axis":{"title":"Red 670/30-A: UF","values":[-50,-40,-30,-20,-10,0,10,20,30,40,50,60,70,80,90,100,200,300,400,500,600,700,800,900,1000,2000,3000,4000,5000,6000,7000,8000,9000,10000,20000,30000,40000,50000,60000,70000,80000,90000,100000,200000],"labelExpr":"datum.value==0?'0':datum.value==100?'10²':datum.value==1000?'10³':datum.value==10000?'10⁴':datum.value==100000?'10⁵':''","tickSize":{"condition":{"test":"datum.value==0||datum.value==100||datum.value==1000||datum.value==10000||datum.value==100000","value":3.5},"value":2},"labelPadding":3,"titlePadding":5}},
    "y":{"field":"y","type":"quantitative","scale":{"domain":[0,104],"nice":false},"axis":{"title":"% of Max","values":[0,4,8,12,16,20,24,28,32,36,40,44,48,52,56,60,64,68,72,76,80,84,88,92,96,100],"labelExpr":"datum.value%20==0?datum.label:''","tickSize":{"condition":{"test":"datum.value%20==0","value":3.5},"value":2},"labelPadding":3,"titlePadding":5}}},
   "layer":[
    {"data":{"name":"Cg"},"mark":{"type":"line","color":"#a0a0a0","strokeWidth":1.3}},
    {"data":{"name":"Ck"},"mark":{"type":"line","color":"#000","strokeWidth":1.3}}
   ]}
 ],"spacing":53,"bounds":"flush"},
 {"vconcat":[
  {"hconcat":[
   {"width":149,"height":148,"title":{"text":"D","dy":17},
    "encoding":{"y":{"field":"y","type":"quantitative","scale":{"domain":[0,104],"nice":false},"axis":{"title":"% of Max","values":[0,4,8,12,16,20,24,28,32,36,40,44,48,52,56,60,64,68,72,76,80,84,88,92,96,100],"labelExpr":"datum.value%20==0?datum.label:''","tickSize":{"condition":{"test":"datum.value%20==0","value":3.5},"value":2},"labelPadding":3,"titlePadding":5}}},
    "layer":[
     {"data":{"name":"Dg"},"mark":{"type":"line","color":"#a0a0a0","strokeWidth":1.6},"encoding":{"x":{"field":"x","type":"quantitative","scale":{"type":"symlog","constant":30,"domain":[-59,245000],"nice":false,"zero":false},"axis":{"orient":"top","title":"wild-type","labels":false,"ticks":false,"domain":false,"titleFontWeight":"bold","titleFontSize":9.5,"titlePadding":7}}}},
     {"data":{"name":"Dk"},"mark":{"type":"line","color":"#000","strokeWidth":1.6},"encoding":{"x":{"field":"x","type":"quantitative","scale":{"type":"symlog","constant":30,"domain":[-59,245000],"nice":false,"zero":false},"axis":{"orient":"bottom","title":null,"values":[-50,-40,-30,-20,-10,0,10,20,30,40,50,60,70,80,90,100,200,300,400,500,600,700,800,900,1000,2000,3000,4000,5000,6000,7000,8000,9000,10000,20000,30000,40000,50000,60000,70000,80000,90000,100000,200000],"labelExpr":"datum.value==0?'0':datum.value==100?'10²':datum.value==1000?'10³':datum.value==10000?'10⁴':datum.value==100000?'10⁵':''","tickSize":{"condition":{"test":"datum.value==0||datum.value==100||datum.value==1000||datum.value==10000||datum.value==100000","value":3.5},"value":2},"labelPadding":3}}}}
    ],
    "resolve":{"axis":{"x":"independent"}}},
   {"width":147,"height":148,"title":{"text":"E","dy":17},
    "encoding":{"y":{"field":"y","type":"quantitative","scale":{"domain":[0,104],"nice":false},"axis":{"title":"% of Max","values":[0,4,8,12,16,20,24,28,32,36,40,44,48,52,56,60,64,68,72,76,80,84,88,92,96,100],"labelExpr":"datum.value%20==0?datum.label:''","tickSize":{"condition":{"test":"datum.value%20==0","value":3.5},"value":2},"labelPadding":3,"titlePadding":5}}},
    "layer":[
     {"data":{"name":"Eg"},"mark":{"type":"line","color":"#a0a0a0","strokeWidth":1.6},"encoding":{"x":{"field":"x","type":"quantitative","scale":{"type":"symlog","constant":30,"domain":[-59,245000],"nice":false,"zero":false},"axis":{"orient":"top","title":"Arg/Gly","labels":false,"ticks":false,"domain":false,"titleFontWeight":"bold","titleFontSize":9.5,"titlePadding":7}}}},
     {"data":{"name":"Ek"},"mark":{"type":"line","color":"#000","strokeWidth":1.6},"encoding":{"x":{"field":"x","type":"quantitative","scale":{"type":"symlog","constant":30,"domain":[-59,245000],"nice":false,"zero":false},"axis":{"orient":"bottom","title":null,"values":[-50,-40,-30,-20,-10,0,10,20,30,40,50,60,70,80,90,100,200,300,400,500,600,700,800,900,1000,2000,3000,4000,5000,6000,7000,8000,9000,10000,20000,30000,40000,50000,60000,70000,80000,90000,100000,200000],"labelExpr":"datum.value==0?'0':datum.value==100?'10²':datum.value==1000?'10³':datum.value==10000?'10⁴':datum.value==100000?'10⁵':''","tickSize":{"condition":{"test":"datum.value==0||datum.value==100||datum.value==1000||datum.value==10000||datum.value==100000","value":3.5},"value":2},"labelPadding":3}}}}
    ],
    "resolve":{"axis":{"x":"independent"}}},
   {"width":148,"height":148,"title":{"text":"F","dy":17},
    "encoding":{"y":{"field":"y","type":"quantitative","scale":{"domain":[0,104],"nice":false},"axis":{"title":"% of Max","values":[0,4,8,12,16,20,24,28,32,36,40,44,48,52,56,60,64,68,72,76,80,84,88,92,96,100],"labelExpr":"datum.value%20==0?datum.label:''","tickSize":{"condition":{"test":"datum.value%20==0","value":3.5},"value":2},"labelPadding":3,"titlePadding":5}}},
    "layer":[
     {"data":{"name":"Fg"},"mark":{"type":"line","color":"#a0a0a0","strokeWidth":1.6},"encoding":{"x":{"field":"x","type":"quantitative","scale":{"type":"symlog","constant":30,"domain":[-59,245000],"nice":false,"zero":false},"axis":{"orient":"top","title":"Gly/Gly","labels":false,"ticks":false,"domain":false,"titleFontWeight":"bold","titleFontSize":9.5,"titlePadding":7}}}},
     {"data":{"name":"Fk"},"mark":{"type":"line","color":"#000","strokeWidth":1.6},"encoding":{"x":{"field":"x","type":"quantitative","scale":{"type":"symlog","constant":30,"domain":[-59,245000],"nice":false,"zero":false},"axis":{"orient":"bottom","title":null,"values":[-50,-40,-30,-20,-10,0,10,20,30,40,50,60,70,80,90,100,200,300,400,500,600,700,800,900,1000,2000,3000,4000,5000,6000,7000,8000,9000,10000,20000,30000,40000,50000,60000,70000,80000,90000,100000,200000],"labelExpr":"datum.value==0?'0':datum.value==100?'10²':datum.value==1000?'10³':datum.value==10000?'10⁴':datum.value==100000?'10⁵':''","tickSize":{"condition":{"test":"datum.value==0||datum.value==100||datum.value==1000||datum.value==10000||datum.value==100000","value":3.5},"value":2},"labelPadding":3}}}}
    ],
    "resolve":{"axis":{"x":"independent"}}}
  ],"spacing":55,"bounds":"flush"},
  {"width":550,"height":14,"view":{"stroke":null},
   "layer":[
    {"data":{"values":[{"a":0.0218,"b":0.3945},{"a":0.6436,"b":0.9745}]},"mark":{"type":"rule","strokeWidth":2.4,"color":"#000"},"encoding":{"x":{"field":"a","type":"quantitative","scale":{"domain":[0,1],"nice":false,"zero":false},"axis":null},"x2":{"field":"b"},"y":{"datum":0.5,"type":"quantitative","scale":{"domain":[0,1]},"axis":null}}},
    {"data":{"values":[{"x":0.5282,"t":"EC-SOD Alexa Fluor 633"}]},"mark":{"type":"text","fontSize":9,"font":"Liberation Sans","color":"#111"},"encoding":{"x":{"field":"x","type":"quantitative"},"y":{"datum":0.5,"type":"quantitative"},"text":{"field":"t"}}},
    {"data":{"values":[{"x":0.978}]},"mark":{"type":"point","shape":"triangle-right","filled":true,"size":70,"color":"#000","opacity":1},"encoding":{"x":{"field":"x","type":"quantitative"},"y":{"datum":0.5,"type":"quantitative"}}}
   ]}
 ],"spacing":7}
]
}
